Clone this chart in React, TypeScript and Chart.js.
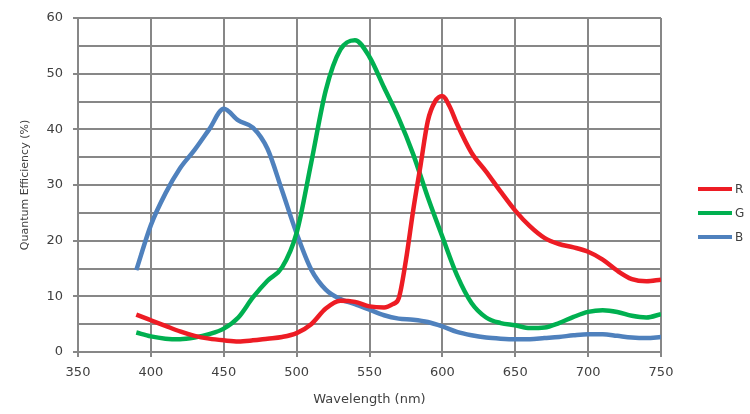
import React, { useEffect, useRef } from 'react';
import { Chart, registerables } from 'chart.js';

Chart.register(...registerables);

// ---- Data ----
const X_TICKS = [350, 400, 450, 500, 550, 600, 650, 700, 750];

const RED_WL = [390, 400, 410, 420, 430, 440, 450, 460, 470, 480, 490, 500, 510, 520, 530, 540, 550, 560, 566, 570, 575, 580, 585, 590, 595, 600, 605, 610, 620, 630, 640, 650, 660, 670, 680, 690, 700, 710, 720, 730, 740, 750];
const RED_QE = [6.7, 5.7, 4.7, 3.7, 2.9, 2.4, 2.1, 1.9, 2.1, 2.4, 2.7, 3.4, 5.0, 7.8, 9.2, 9.0, 8.2, 8.0, 8.6, 9.6, 16.5, 25.5, 33.5, 41.5, 45.0, 46.0, 44.1, 41.0, 35.8, 32.4, 28.8, 25.4, 22.6, 20.5, 19.4, 18.8, 18.0, 16.6, 14.6, 13.1, 12.7, 13.0];

const GREEN_WL = [390, 400, 410, 420, 430, 440, 450, 460, 470, 480, 490, 500, 510, 520, 530, 540, 550, 560, 570, 580, 590, 600, 610, 620, 630, 640, 650, 660, 670, 680, 690, 700, 710, 720, 730, 740, 750];
const GREEN_QE = [3.5, 2.8, 2.4, 2.3, 2.6, 3.2, 4.2, 6.2, 9.8, 12.8, 15.2, 21.4, 34.0, 47.0, 54.3, 56.0, 53.0, 47.5, 42.0, 35.5, 27.8, 20.7, 13.8, 8.8, 6.2, 5.2, 4.8, 4.3, 4.4, 5.2, 6.3, 7.2, 7.5, 7.2, 6.5, 6.2, 6.8];

const BLUE_WL = [390, 400, 410, 420, 430, 440, 450, 460, 470, 480, 490, 500, 510, 520, 530, 540, 550, 560, 570, 580, 590, 600, 610, 620, 630, 640, 650, 660, 670, 680, 690, 700, 710, 720, 730, 740, 750];
const BLUE_QE = [14.7, 22.8, 28.5, 33.0, 36.3, 40.0, 43.7, 41.6, 40.3, 36.5, 29.0, 21.3, 14.8, 11.2, 9.5, 8.6, 7.6, 6.6, 6.0, 5.8, 5.4, 4.6, 3.6, 3.0, 2.6, 2.4, 2.3, 2.3, 2.5, 2.7, 3.0, 3.2, 3.2, 2.9, 2.6, 2.5, 2.7];

const SERIES_LABELS = ['R', 'G', 'B'];
const SERIES_COLORS = ['#ED1C24', '#00B050', '#4F81BD'];

const X_TITLE = 'Wavelength (nm)';
const Y_TITLE = 'Quantum Efficiency (%)';

const GRID = '#878787';
const TEXT = '#404040';
const FONT = 'DejaVu Sans';

function pairs(xs: number[], ys: number[]) {
  return xs.map((x, i) => ({ x, y: ys[i] }));
}

const legendPlugin = {
  id: 'sideLegend',
  afterDraw(chart: any) {
    const ctx = chart.ctx;
    ctx.save();
    chart.data.datasets.forEach((ds: any, i: number) => {
      const y = 189 + i * 24;
      ctx.strokeStyle = ds.borderColor;
      ctx.lineWidth = 4;
      ctx.lineCap = 'butt';
      ctx.beginPath();
      ctx.moveTo(698, y);
      ctx.lineTo(732, y);
      ctx.stroke();
      ctx.fillStyle = TEXT;
      ctx.font = `12px "${FONT}"`;
      ctx.textAlign = 'left';
      ctx.textBaseline = 'middle';
      ctx.fillText(ds.label, 735, y + 1);
    });
    ctx.restore();
  },
};

export default function App() {
  const ref = useRef<HTMLCanvasElement | null>(null);

  useEffect(() => {
    if (!ref.current) return;
    const datasets = [
      pairs(RED_WL, RED_QE),
      pairs(GREEN_WL, GREEN_QE),
      pairs(BLUE_WL, BLUE_QE),
    ].map((data, i) => ({
      label: SERIES_LABELS[i],
      data,
      borderColor: SERIES_COLORS[i],
      backgroundColor: SERIES_COLORS[i],
      borderWidth: 4.5,
      pointRadius: 0,
      cubicInterpolationMode: 'monotone' as const,
      fill: false,
    }));

    const chart = new Chart(ref.current, {
      type: 'line',
      data: { datasets },
      plugins: [legendPlugin],
      options: {
        animation: false,
        responsive: false,
        devicePixelRatio: 1,
        layout: { padding: { top: 18, right: 89, left: 0, bottom: 0 } },
        plugins: {
          legend: { display: false },
          tooltip: { enabled: false },
        },
        scales: {
          x: {
            type: 'linear',
            min: X_TICKS[0],
            max: X_TICKS[X_TICKS.length - 1],
            afterBuildTicks: (s: any) => {
              s.ticks = X_TICKS.map((v) => ({ value: v }));
            },
            afterFit: (s: any) => {
              s.height = 62;
            },
            ticks: {
              color: TEXT,
              font: { family: FONT, size: 13 },
              padding: 8,
              maxRotation: 0,
            },
            grid: { color: GRID, lineWidth: 2, tickLength: 5, tickColor: GRID },
            border: { color: GRID, width: 2 },
            title: {
              display: true,
              text: X_TITLE,
              color: TEXT,
              font: { family: FONT, size: 13 },
              padding: { top: 0, bottom: 7 },
            },
          },
          y: {
            min: 0,
            max: 60,
            ticks: {
              stepSize: 5,
              color: TEXT,
              font: { family: FONT, size: 13 },
              padding: 10,
              callback: (v: any) => (Number(v) % 10 === 0 ? String(v) : ''),
            },
            afterFit: (s: any) => {
              s.width = 78;
            },
            grid: {
              color: GRID,
              lineWidth: 2,
              tickLength: 5,
              tickColor: (c: any) => (c.tick && c.tick.value % 10 === 0 ? GRID : 'rgba(0,0,0,0)'),
            },
            border: { color: GRID, width: 2 },
            title: {
              display: true,
              text: Y_TITLE,
              color: TEXT,
              font: { family: FONT, size: 11 },
              padding: { top: 19, bottom: 0 },
            },
          },
        },
      },
    });
    return () => chart.destroy();
  }, []);

  return (
    <div style={{ position: 'fixed', left: 0, top: 0, width: 750, height: 414, background: '#fff' }}>
      <canvas ref={ref} width={750} height={414} style={{ width: 750, height: 414, display: 'block' }} />
    </div>
  );
}
